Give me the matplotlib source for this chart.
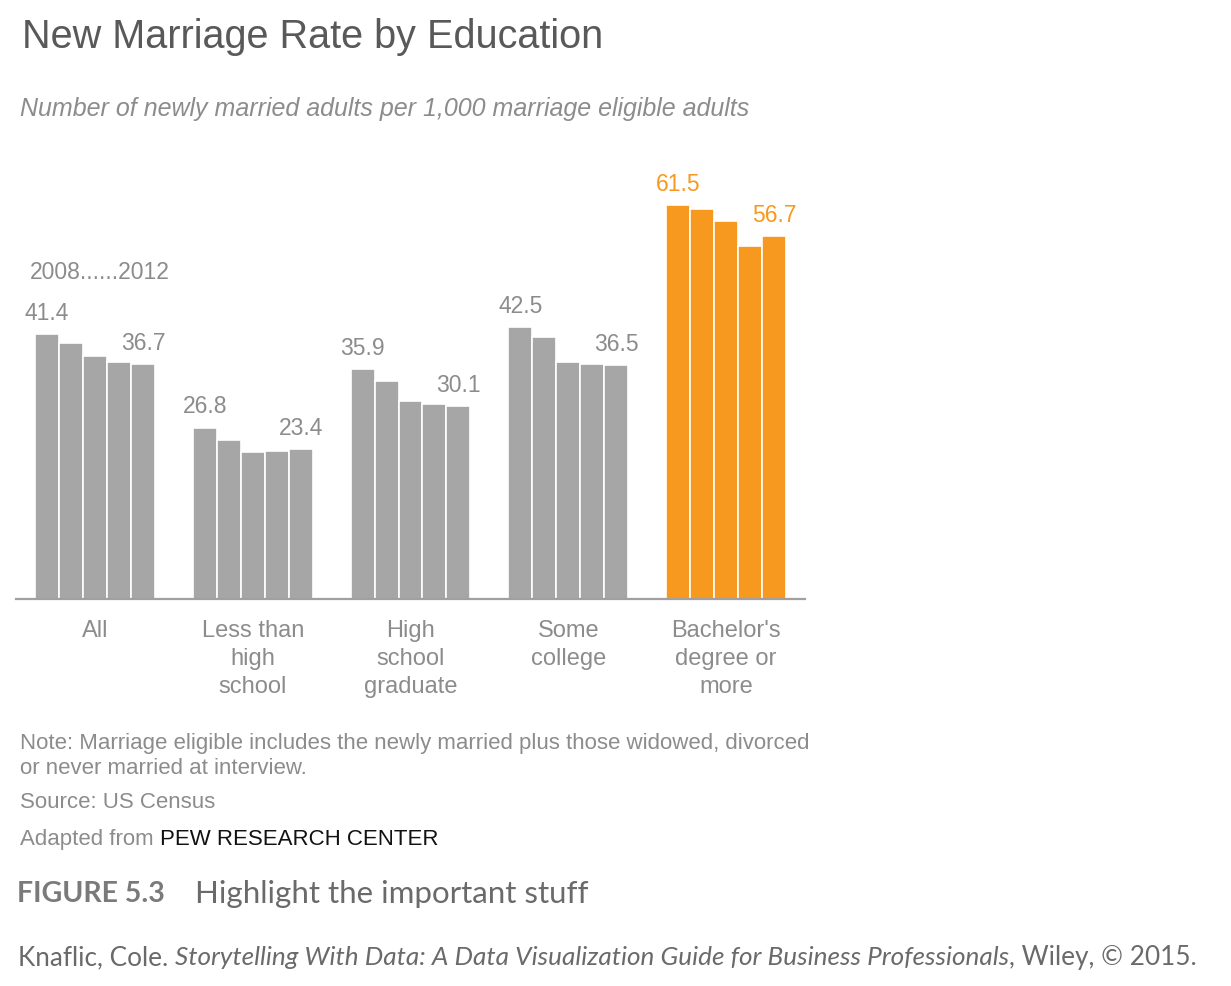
import matplotlib
matplotlib.use("Agg")
import matplotlib.pyplot as plt
import numpy as np

# data
categories = ["All", "Less than\nhigh\nschool", "High\nschool\ngraduate", "Some\ncollege", "Bachelor's\ndegree or\nmore"]
years = [2008, 2009, 2010, 2011, 2012]
rate_all = [41.4, 40.0, 38.0, 37.0, 36.7]
rate_less_hs = [26.8, 24.9, 22.9, 23.1, 23.4]
rate_hs_grad = [35.9, 34.0, 30.9, 30.5, 30.1]
rate_some_college = [42.5, 41.0, 37.0, 36.7, 36.5]
rate_bachelors = [61.5, 61.0, 59.1, 55.1, 56.7]
highlight = 4

W, H = 1231, 987
GRAY = "#A6A6A6"
ORANGE = "#F7991F"
TXT = "#8C8C8C"
FONT = ["Liberation Sans", "DejaVu Sans"]

plt.rcParams["font.family"] = FONT


def fx(x):
    return x / W


def fy(y):
    return 1 - y / H


fig = plt.figure(figsize=(W / 100, H / 100), dpi=100)
ax = fig.add_axes([fx(16), fy(600), fx(805) - fx(16), fy(170) - fy(600)])

series = [rate_all, rate_less_hs, rate_hs_grad, rate_some_college, rate_bachelors]
bw = 0.152
for i, vals in enumerate(series):
    col = ORANGE if i == highlight else GRAY
    lab_col = ORANGE if i == highlight else TXT
    xs = i + (np.arange(len(years)) - 2) * bw
    ax.bar(xs, vals, width=bw, color=col, edgecolor="white", linewidth=1.2, zorder=2)
    for j in (0, len(years) - 1):
        ax.annotate(f"{vals[j]:.1f}", (xs[j], vals[j]), xytext=(0, 11),
                    textcoords="offset points", ha="center", va="baseline",
                    fontsize=16.5, color=lab_col)

# year range note above the first group
ax.annotate(f"{years[0]}......{years[-1]}", (0 + 0.03, rate_all[0]), xytext=(0, 40.5),
            textcoords="offset points", ha="center", va="baseline",
            fontsize=16.5, color=TXT)

ax.set_xlim(-0.5, 4.5)
ax.set_ylim(0, 67.2)
for s in ["top", "right", "left"]:
    ax.spines[s].set_visible(False)
ax.spines["bottom"].set_color("#A0A0A0")
ax.spines["bottom"].set_linewidth(1.6)
ax.set_yticks([])
ax.set_xticks(range(len(categories)))
ax.set_xticklabels(categories, fontsize=17, color=TXT, linespacing=1.36)
ax.tick_params(axis="x", length=0, pad=14.5)

fig.text(fx(22), fy(37), "New Marriage Rate by Education", fontsize=28.5,
         color="#595959", va="center", ha="left")
fig.text(fx(20), fy(109), "Number of newly married adults per 1,000 marriage eligible adults",
         fontsize=18, color=TXT, style="italic", va="center", ha="left")

fig.text(fx(20), fy(743), "Note: Marriage eligible includes the newly married plus those widowed, divorced",
         fontsize=16, color=TXT, va="center", ha="left")
fig.text(fx(20), fy(769), "or never married at interview.",
         fontsize=16, color=TXT, va="center", ha="left")
fig.text(fx(20), fy(803), "Source: US Census", fontsize=16, color=TXT, va="center", ha="left")

fig.canvas.draw()
r = fig.canvas.get_renderer()


def run_text(x_px, y_px, parts, **kw):
    # draw a line made of several styled pieces, one after another
    x = x_px
    for txt, style in parts:
        t = fig.text(fx(x), fy(y_px), txt, va="center", ha="left", **kw, **style)
        bb = t.get_window_extent(renderer=r)
        x += bb.width


run_text(20, 840, [("Adapted from ", {"color": TXT}), ("PEW RESEARCH CENTER", {"color": "#111111"})],
         fontsize=16)

LATO = ["Lato", "DejaVu Sans"]
fig.text(fx(17), fy(894), "FIGURE 5.3", fontsize=20.5, color="#7a7a7a", fontweight="bold",
         family=LATO, va="center", ha="left")
fig.text(fx(195), fy(894), "Highlight the important stuff", fontsize=22.5, color="#6a6a6a",
         fontweight="normal", family=LATO, va="center", ha="left")

run_text(18, 958, [("Knaflic, Cole. ", {}),
                   ("Storytelling With Data: A Data Visualization Guide for Business Professionals", {"style": "italic"}),
                   (", Wiley, \u00a9 2015.", {})],
         fontsize=18.8, color="#6a6a6a", family=LATO)

fig.savefig("out.png", dpi=100)
